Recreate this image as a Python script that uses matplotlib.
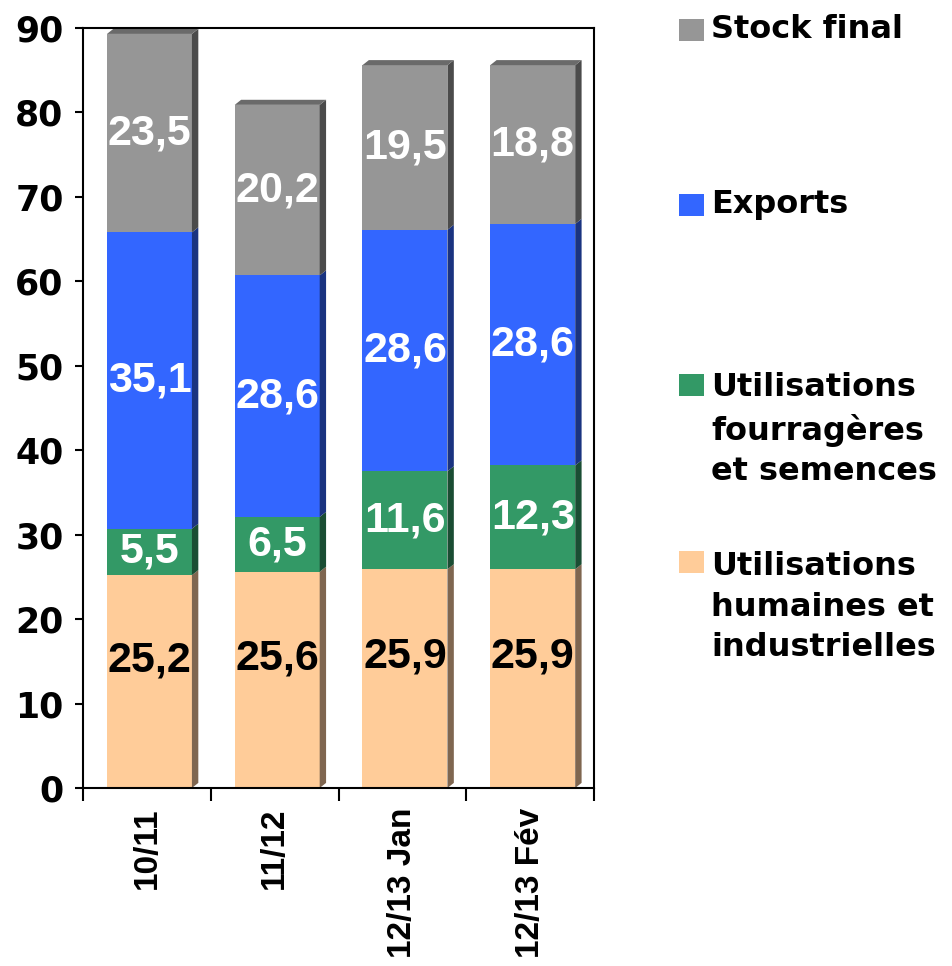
import matplotlib.pyplot as plt
import matplotlib.patches as mpatches
import numpy as np

plt.rcParams['font.family'] = ['Liberation Sans', 'DejaVu Sans']
plt.rcParams['font.weight'] = 'bold'

campagnes = ['10/11', '11/12', '12/13 Jan', '12/13 Fév']
humaines = [25.2, 25.6, 25.9, 25.9]
fourrageres = [5.5, 6.5, 11.6, 12.3]
exports = [35.1, 28.6, 28.6, 28.6]
stock = [23.5, 20.2, 19.5, 18.8]

series = [humaines, fourrageres, exports, stock]
noms = ['Utilisations\nhumaines et\nindustrielles',
        'Utilisations\nfourragères\net semences',
        'Exports', 'Stock final']
faces = ['#FFCC99', '#339966', '#3366FF', '#969696']
cotes = ['#7F6650', '#1A4D33', '#1A3380', '#4B4B4B']
dessus = ['#CCA37A', '#297A52', '#2952CC', '#6A6A6A']
txt_col = ['black', 'white', 'white', 'white']

fig = plt.figure(figsize=(9.52, 9.66), dpi=100)
ax = fig.add_axes([0.0872, 0.1843, 0.5368, 0.7867])

w = 0.665
dx, dy = 0.05, 0.6
x = np.arange(len(campagnes)) + 0.52
bottom = np.zeros(len(campagnes))

for k, vals in enumerate(series):
    vals = np.array(vals)
    ax.bar(x, vals, w, bottom=bottom, color=faces[k], edgecolor='none', zorder=2)
    for i in range(len(x)):
        x1 = x[i] + w / 2
        y0, y1 = bottom[i], bottom[i] + vals[i]
        side = mpatches.Polygon([(x1, y0), (x1 + dx, y0 + dy), (x1 + dx, y1 + dy), (x1, y1)],
                                closed=True, facecolor=cotes[k], edgecolor='none',
                                zorder=2, clip_on=False)
        ax.add_patch(side)
        if k == len(series) - 1:
            x0 = x[i] - w / 2
            top = mpatches.Polygon([(x0, y1), (x0 + dx, y1 + dy), (x1 + dx, y1 + dy), (x1, y1)],
                                   closed=True, facecolor=dessus[k], edgecolor='none',
                                   zorder=2, clip_on=False)
            ax.add_patch(top)
        ypos = y0 + vals[i] * (0.6 if k == 0 else 0.5)
        ax.text(x[i], ypos, f'{vals[i]:.1f}'.replace('.', ','), ha='center', va='center',
                fontsize=31, fontweight='bold', color=txt_col[k], zorder=3)
    bottom = bottom + vals

ax.set_xlim(0, 4)
ax.set_ylim(0, 90)
ax.set_yticks(np.arange(0, 91, 10))
ax.tick_params(axis='y', length=6, width=1.5, direction='out', pad=8)
ax.set_yticklabels([str(v) for v in range(0, 91, 10)], fontsize=25, fontweight='bold',
                   family='DejaVu Sans')
ax.set_xticks(np.arange(0, 5))
ax.set_xticklabels([])
ax.set_xticks(x - 0.02, minor=True)
ax.set_xticklabels(campagnes, minor=True, rotation=90, fontsize=24, fontweight='bold')
ax.tick_params(axis='x', which='major', length=9, width=1.5, direction='out')
ax.tick_params(axis='x', which='minor', length=0, pad=14)
for s in ax.spines.values():
    s.set_linewidth(1.5)

# legende
leg_y = [30, 205, 430, 607]
for k in range(3, -1, -1):
    yc = leg_y[3 - k]
    nlines = noms[k].count('\n') + 1
    y_first = yc - (nlines - 1) * 45 / 2
    fig.patches.append(mpatches.Rectangle((679 / 952, 1 - (y_first + 11) / 966), 25 / 952, 22 / 966,
                                          transform=fig.transFigure, facecolor=faces[k],
                                          edgecolor='none'))
    fig.text(711 / 952, 1 - yc / 966, noms[k], ha='left', va='center', fontsize=23,
             fontweight='bold', family='DejaVu Sans', linespacing=1.4)

fig.savefig('out.png', dpi=100)
